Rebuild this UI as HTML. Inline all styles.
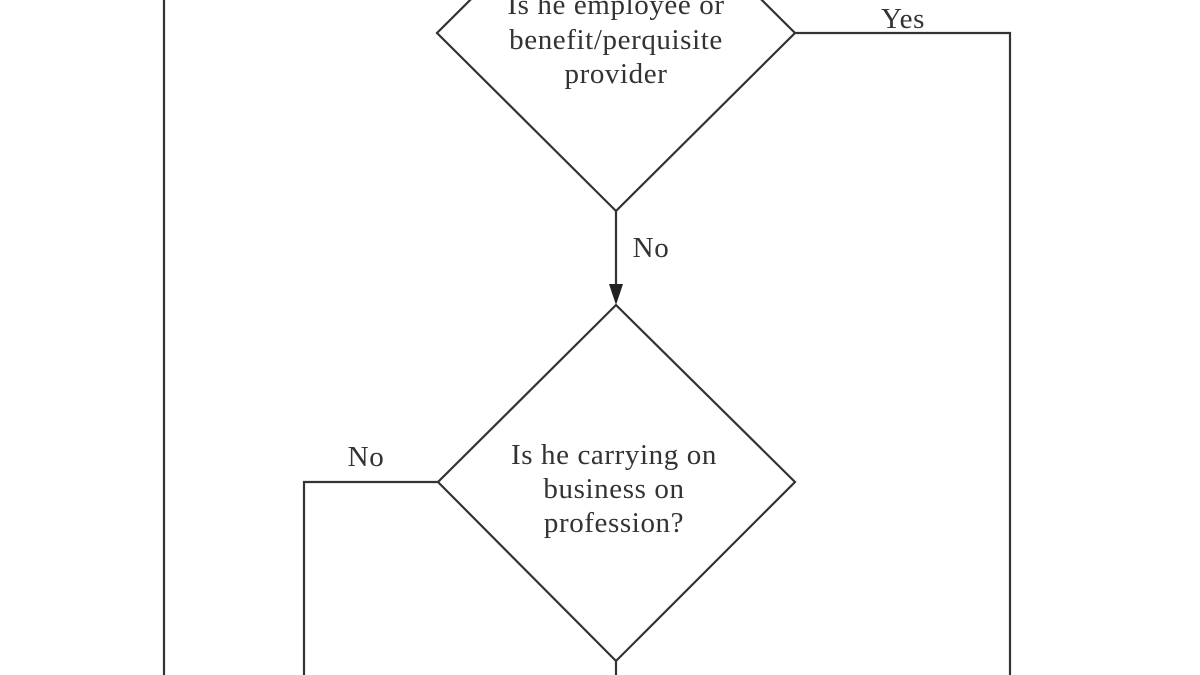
<!DOCTYPE html>
<html><head><meta charset="utf-8"><style>
html,body{margin:0;padding:0;background:#fff;}
svg{display:block;}
text{font-family:"Liberation Serif",serif;font-size:29px;fill:#333;text-anchor:middle;letter-spacing:0.6px;}
</style></head><body>
<svg width="1200" height="675" viewBox="0 0 1200 675" xmlns="http://www.w3.org/2000/svg">
<g stroke="#333" stroke-width="2.2" fill="none">
<line x1="164" y1="0" x2="164" y2="675"/>
<polygon points="616,-145 795,33 616,211 437,33"/>
<polyline points="795,33 1010,33 1010,675"/>
<line x1="616" y1="211" x2="616" y2="290"/>
<polygon points="616,305 795,482 616,661 438,482"/>
<polyline points="438,482 304,482 304,675"/>
<line x1="616" y1="661" x2="616" y2="675"/>
</g>
<polygon points="609,284 623,284 616,305" fill="#222"/>
<text x="616" y="14">Is he employee or</text>
<text x="616" y="49">benefit/perquisite</text>
<text x="616" y="83">provider</text>
<text x="903" y="28">Yes</text>
<text x="651" y="257">No</text>
<text x="366" y="466">No</text>
<text x="614" y="464">Is he carrying on</text>
<text x="614" y="498">business on</text>
<text x="614" y="532">profession?</text>
</svg>
</body></html>
